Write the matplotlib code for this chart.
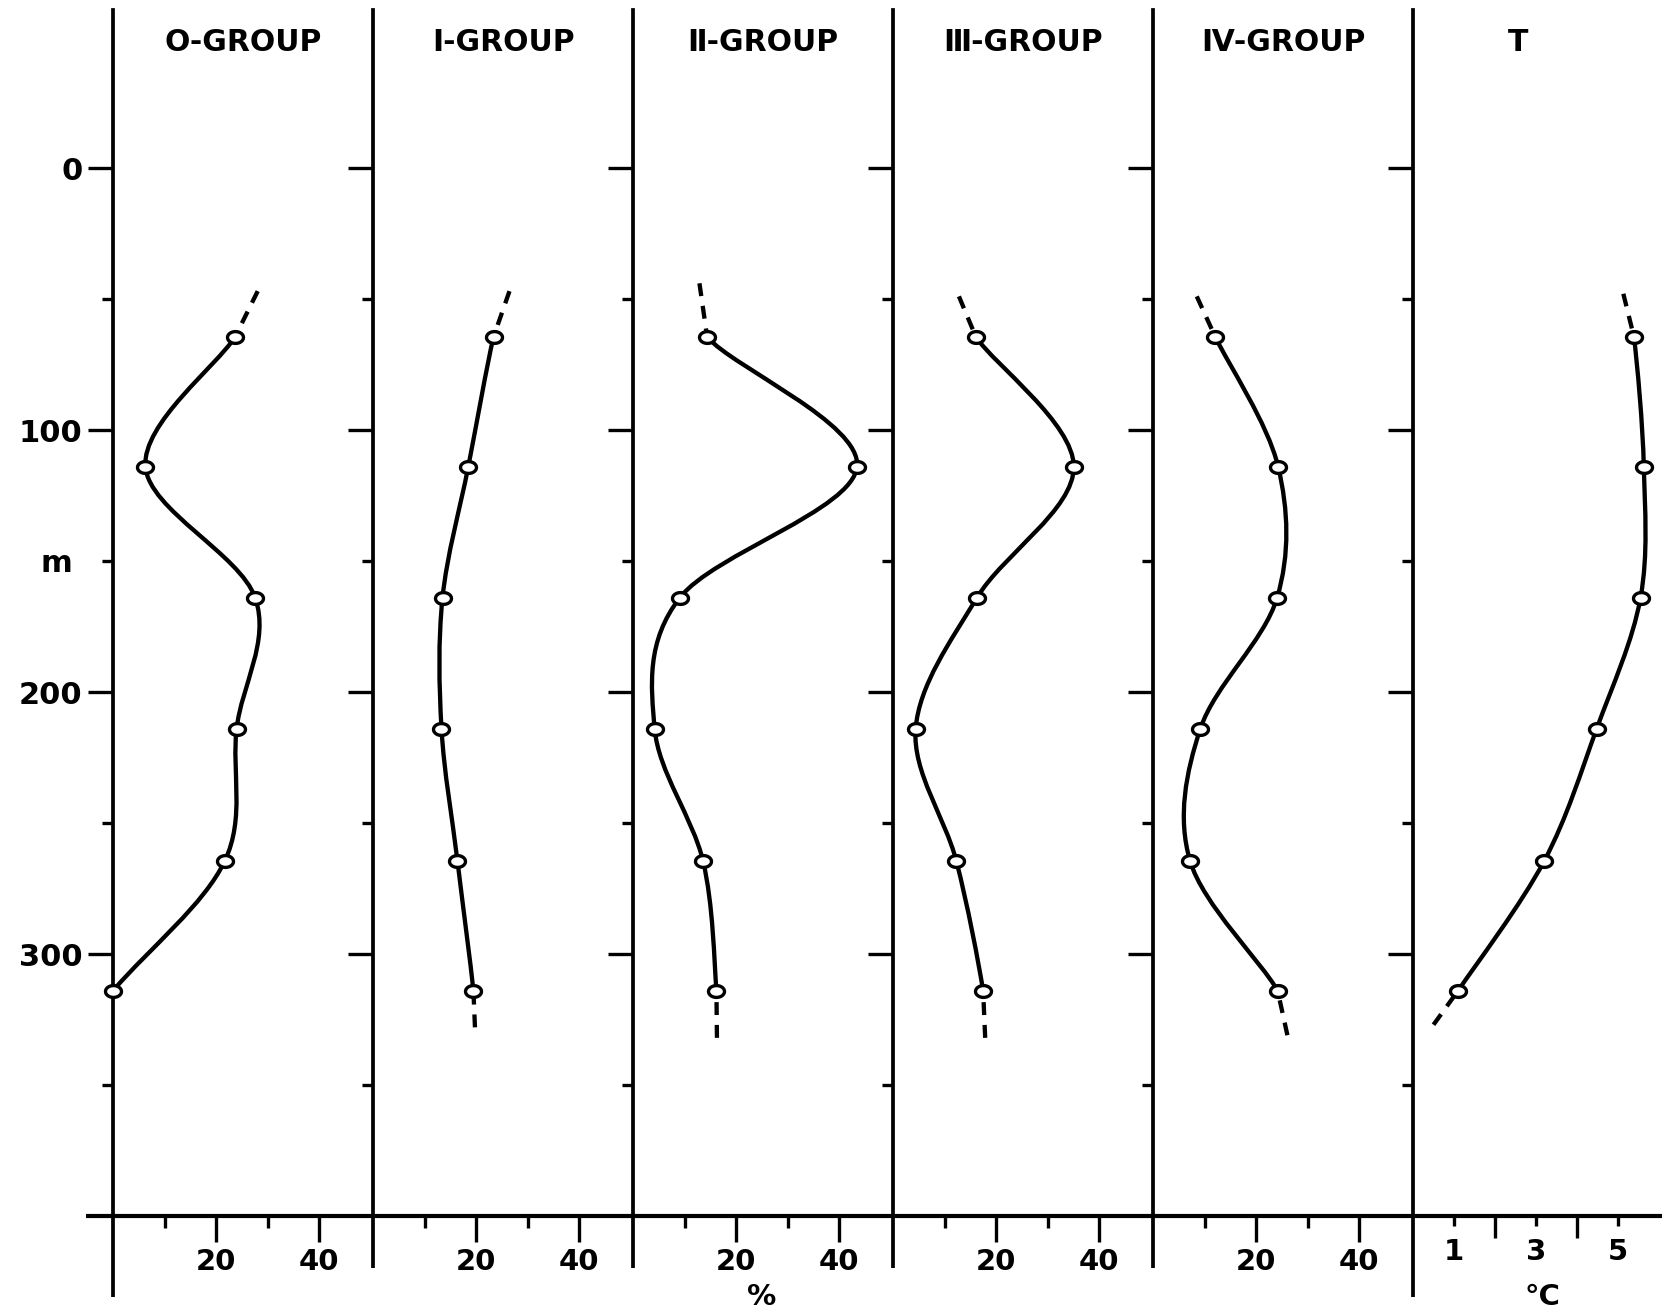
import numpy as np
import matplotlib
matplotlib.use('Agg')
import matplotlib.pyplot as plt
from matplotlib.path import Path
from matplotlib.patches import PathPatch

# sampling depths (m)
depth = [64.5, 114, 164, 214, 264.5, 314]

titles = ['O-GROUP', 'Ⅰ-GROUP', 'Ⅱ-GROUP', 'Ⅲ-GROUP', 'Ⅳ-GROUP', 'T']

# % of each age group per depth, last panel is temperature in deg C
o_group = [23.7, 6.3, 27.6, 24.0, 21.7, 0.0]
i_group = [23.4, 18.5, 13.5, 13.3, 16.4, 19.5]
ii_group = [14.4, 43.5, 9.1, 4.2, 13.6, 16.2]
iii_group = [16.1, 35.1, 16.3, 4.4, 12.3, 17.5]
iv_group = [12.1, 24.3, 24.1, 9.2, 7.2, 24.2]
temp = [5.39, 5.63, 5.55, 4.48, 3.20, 1.10]

# where the dashed ends of the curves stop (value, depth); None = no dash
top_ends = [(28.1, 47), (26.5, 47), (12.9, 44), (12.8, 49), (8.5, 49), (5.13, 48)]
bottom_ends = [None, (19.8, 328), (16.3, 332), (17.9, 332), (26.1, 331), (0.50, 327)]

pct_ticks_major = [20, 40]
pct_ticks_minor = [10, 30]
t_ticks_major = [1, 3, 5]
t_ticks_minor = [2, 4]

series = [o_group, i_group, ii_group, iii_group, iv_group, temp]

plt.rcParams['font.family'] = ['DejaVu Sans']
plt.rcParams['font.weight'] = 'bold'

W, H = 1662, 1310
edges = [113, 373, 633, 893, 1153, 1413, 1662]
ytop, ybot = 10, 1216
LW_AX = 2.7
LW_CURVE = 3.1

fig = plt.figure(figsize=(W / 100, H / 100), dpi=100)

# flattened open circle like the hand drawn markers
th = np.linspace(0, 2 * np.pi, 60)
ell = Path(np.column_stack([np.cos(th), 0.74 * np.sin(th)]), closed=True)


def bez_path(pts, tang, i0, i1):
    verts = [pts[i0]]
    codes = [Path.MOVETO]
    for i in range(i0, i1):
        verts += [pts[i] + tang[i] / 3, pts[i + 1] - tang[i + 1] / 3, pts[i + 1]]
        codes += [Path.CURVE4] * 3
    return Path(verts, codes)


def draw_curve(ax, vals, top, bottom):
    pts = [(v, d) for v, d in zip(vals, depth)]
    first = 0
    if top is not None:
        pts = [top] + pts
        first = 1
    if bottom is not None:
        pts = pts + [bottom]
    pts = np.array(pts, dtype=float)
    n = len(pts)
    tang = np.zeros_like(pts)
    tang[1:-1] = (pts[2:] - pts[:-2]) / 2
    tang[0] = pts[1] - pts[0]
    tang[-1] = pts[-1] - pts[-2]
    last = first + len(vals) - 1
    ax.add_patch(PathPatch(bez_path(pts, tang, first, last), fill=False,
                           lw=LW_CURVE, ec='black', capstyle='round', zorder=3))
    # dashes drawn from the loose end inwards so the end is always a full dash
    dash = (0, (3.0, 2.3))
    if top is not None:
        ax.plot([pts[0, 0], pts[1, 0]], [pts[0, 1], pts[1, 1]], color='black',
                lw=LW_CURVE, ls=dash, zorder=3)
    if bottom is not None:
        ax.plot([pts[n - 1, 0], pts[n - 2, 0]], [pts[n - 1, 1], pts[n - 2, 1]],
                color='black', lw=LW_CURVE, ls=dash, zorder=3)
    ax.plot(vals, depth, ls='none', marker=ell, ms=11.5, mfc='white',
            mec='black', mew=2.4, zorder=4, clip_on=False)


for i in range(6):
    x0, x1 = edges[i], edges[i + 1]
    ax = fig.add_axes([x0 / W, 1 - ybot / H, (x1 - x0) / W, (ybot - ytop) / H])
    is_t = (i == 5)
    ax.set_xlim(0, (x1 - x0) / (41.0 if is_t else 5.15))
    ax.set_ylim(400, 400 - (ybot - ytop) / 2.62)
    for s in ['top', 'right']:
        ax.spines[s].set_visible(False)
    ax.spines['left'].set_linewidth(LW_AX)
    ax.spines['bottom'].set_linewidth(3.0)

    # depth ticks
    ax.set_yticks([0, 100, 200, 300])
    ax.set_yticks([50, 150, 250, 350], minor=True)
    ax.tick_params(axis='y', which='major', length=18, width=2.4, pad=4)
    ax.tick_params(axis='y', which='minor', length=8, width=2.4, pad=21)
    if i == 0:
        ax.set_yticklabels(['0', '100', '200', '300'], fontsize=22, fontweight='bold')
        ax.set_yticklabels(['', 'm', '', ''], minor=True, fontsize=22, fontweight='bold')
    else:
        ax.set_yticklabels([])
        ax.set_yticklabels([], minor=True)

    # value ticks
    if is_t:
        ax.set_xticks(t_ticks_major)
        ax.set_xticks(t_ticks_minor, minor=True)
        ax.set_xticklabels([str(t) for t in t_ticks_major], fontsize=21, fontweight='bold')
        ax.tick_params(axis='x', which='major', length=7.5, width=2.4, pad=8)
        ax.tick_params(axis='x', which='minor', length=16, width=2.4)
    else:
        ax.set_xticks(pct_ticks_major)
        ax.set_xticks(pct_ticks_minor, minor=True)
        ax.set_xticklabels([str(t) for t in pct_ticks_major], fontsize=21, fontweight='bold')
        ax.tick_params(axis='x', which='major', length=19, width=2.4, pad=4)
        ax.tick_params(axis='x', which='minor', length=8.5, width=2.4)

    # vertical line goes on below the base line
    low = 431 if i in (0, 5) else 420
    ax.plot([0, 0], [400, low], color='black', lw=LW_AX, clip_on=False,
            solid_capstyle='butt')
    if i == 0:
        ax.plot([-5.2, 0], [400, 400], color='black', lw=3.0, clip_on=False,
                solid_capstyle='butt')

    tx = 2.56 if is_t else 25.3
    ax.text(tx, -48, titles[i], ha='center', va='center', fontsize=21.5,
            fontweight='bold')

    draw_curve(ax, series[i], top_ends[i], bottom_ends[i])

    if i == 2:
        ax.text(25, 431, '%', ha='center', va='center', fontsize=21,
                fontweight='bold', clip_on=False)
    if is_t:
        ax.text(3.15, 431, '°C', ha='center', va='center', fontsize=21,
                fontweight='bold', clip_on=False)

fig.savefig('out.png', dpi=100, facecolor='white')
